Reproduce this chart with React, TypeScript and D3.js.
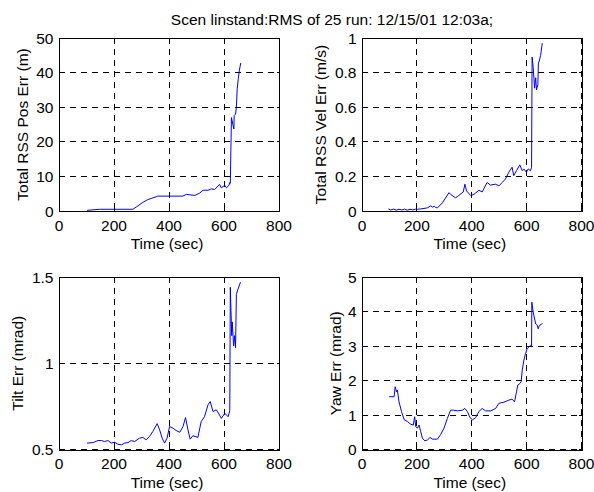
import React from "react";
import * as d3 from "d3";

const TITLE = "Scen linstand:RMS of 25 run: 12/15/01 12:03a;";
const X_TICKS = [0, 200, 400, 600, 800];

// Panel 1: Total RSS Pos Err (m)
const posT = [102, 148, 269, 305, 323, 353, 359, 450, 463, 494, 512, 524, 542, 554, 566, 584, 590, 603, 609, 618, 621, 623, 627, 633, 636, 637, 642, 645, 648, 652, 656, 661];
const posV = [0.2, 0.5, 0.5, 2.5, 3.3, 4.1, 4.3, 4.3, 4.8, 4.5, 5.2, 6.0, 6.0, 6.4, 6.2, 7.7, 6.7, 7.4, 6.7, 7.4, 8.2, 8.0, 27, 24.7, 23.7, 27.6, 28, 30, 35.3, 38.3, 40.7, 42.8];
const posTicks = [0, 10, 20, 30, 40, 50];

// Panel 2: Total RSS Vel Err (m/s)
const velT = [96, 105, 115, 125, 135, 145, 155, 165, 175, 185, 195, 202, 214, 238, 251, 257, 263, 269, 275, 293, 317, 323, 341, 353, 369, 375, 381, 396, 408, 426, 438, 456, 468, 487, 499, 511, 523, 535, 547, 553, 563, 575, 584, 590, 599, 606, 614, 618, 620, 624, 629, 633, 636, 641, 643, 645, 651, 657];
const velV = [0.012, 0.006, 0.011, 0.005, 0.01, 0.006, 0.011, 0.005, 0.01, 0.006, 0.011, 0.01, 0.012, 0.018, 0.03, 0.022, 0.028, 0.02, 0.018, 0.047, 0.106, 0.096, 0.076, 0.09, 0.11, 0.155, 0.116, 0.09, 0.096, 0.12, 0.11, 0.165, 0.15, 0.155, 0.145, 0.165, 0.185, 0.224, 0.253, 0.204, 0.233, 0.267, 0.233, 0.243, 0.224, 0.243, 0.233, 0.253, 0.89, 0.83, 0.71, 0.77, 0.7, 0.73, 0.86, 0.86, 0.9, 0.97];
const velTicks = [0, 0.2, 0.4, 0.6, 0.8, 1];

// Panel 3: Tilt Err (mrad)
const tiltT = [102, 124, 142, 154, 166, 178, 190, 202, 214, 227, 239, 251, 263, 275, 293, 305, 317, 329, 341, 357, 366, 375, 384, 393, 402, 414, 426, 439, 451, 460, 469, 477, 487, 505, 517, 529, 542, 550, 560, 572, 584, 590, 603, 615, 621, 623, 628, 630, 635, 639, 642, 645, 651, 660];
const tiltV = [0.537, 0.54, 0.552, 0.552, 0.546, 0.552, 0.537, 0.542, 0.531, 0.527, 0.537, 0.54, 0.552, 0.546, 0.566, 0.57, 0.556, 0.575, 0.604, 0.65, 0.614, 0.566, 0.537, 0.566, 0.633, 0.624, 0.61, 0.6, 0.633, 0.685, 0.614, 0.56, 0.58, 0.57, 0.662, 0.69, 0.759, 0.778, 0.72, 0.73, 0.7, 0.68, 0.71, 0.69, 0.724, 1.44, 1.16, 1.24, 1.1, 1.16, 1.09, 1.4, 1.43, 1.47];
const tiltTicks = [0.5, 1, 1.5];

// Panel 4: Yaw Err (mrad)
const yawT = [99, 117, 121, 126, 129, 135, 144, 154, 166, 178, 187, 192, 196, 202, 208, 214, 220, 229, 239, 248, 257, 275, 287, 299, 311, 323, 333, 348, 366, 375, 384, 394, 403, 414, 426, 438, 450, 469, 487, 499, 517, 535, 547, 556, 563, 568, 575, 580, 584, 590, 596, 602, 608, 614, 618, 619, 624, 633, 639, 642, 647, 653, 658];
const yawV = [1.53, 1.53, 1.82, 1.67, 1.72, 1.38, 1.1, 0.86, 0.81, 0.73, 0.71, 0.95, 0.66, 0.62, 0.71, 0.52, 0.33, 0.25, 0.28, 0.35, 0.3, 0.3, 0.44, 0.62, 0.9, 1.14, 1.14, 1.12, 1.14, 1.19, 1.1, 0.92, 0.86, 0.92, 1.1, 1.19, 1.12, 1.12, 1.19, 1.34, 1.37, 1.43, 1.46, 1.38, 1.67, 1.87, 1.91, 1.96, 2.3, 2.59, 2.78, 2.92, 2.97, 3.02, 3.0, 4.27, 3.98, 3.64, 3.6, 3.5, 3.6, 3.62, 3.66];
const yawTicks = [0, 1, 2, 3, 4, 5];

const FONT = "'Liberation Sans', Arial, sans-serif";
const FS = 15.5;

type PanelProps = {
  left: number; top: number; width: number; height: number;
  t: number[]; v: number[]; yTicks: number[]; yLabel: string; yLabelX: number;
};

const crisp = (p: number) => Math.round(p - 0.5) + 0.5;

function Panel({ left, top, width, height, t, v, yTicks, yLabel, yLabelX }: PanelProps) {
  const x = d3.scaleLinear().domain([0, 800]).range([left, left + width]);
  const y = d3.scaleLinear().domain([yTicks[0], yTicks[yTicks.length - 1]]).range([top + height, top]);
  const pts: [number, number][] = t.map((tt, i) => [tt, v[i]]);
  const line = d3.line<[number, number]>().x(d => x(d[0])).y(d => y(d[1]));
  const tl = 2.5;
  return (
    <g>
      {X_TICKS.map(tk => (
        <line key={"gx" + tk} x1={crisp(x(tk))} x2={crisp(x(tk))} y1={top} y2={top + height} stroke="#000" strokeWidth={1} strokeDasharray="6,5" shapeRendering="crispEdges" />
      ))}
      {yTicks.map(tk => (
        <line key={"gy" + tk} x1={left} x2={left + width} y1={crisp(y(tk))} y2={crisp(y(tk))} stroke="#000" strokeWidth={1} strokeDasharray="6,5" shapeRendering="crispEdges" />
      ))}
      <path d={line(pts) || ""} fill="none" stroke="#0000ff" strokeWidth={1} />
      <rect x={crisp(left)} y={crisp(top)} width={Math.round(width)} height={Math.round(height)} fill="none" stroke="#000" strokeWidth={1} shapeRendering="crispEdges" />
      {X_TICKS.map(tk => (
        <g key={"tx" + tk}>
          <line x1={crisp(x(tk))} x2={crisp(x(tk))} y1={top + height} y2={top + height - tl} stroke="#000" shapeRendering="crispEdges" />
          <line x1={crisp(x(tk))} x2={crisp(x(tk))} y1={top} y2={top + tl} stroke="#000" shapeRendering="crispEdges" />
          <text x={x(tk)} y={top + height + 19.5} textAnchor="middle" fontSize={FS} fontFamily={FONT}>{tk}</text>
        </g>
      ))}
      {yTicks.map(tk => (
        <g key={"ty" + tk}>
          <line x1={left} x2={left + tl} y1={crisp(y(tk))} y2={crisp(y(tk))} stroke="#000" shapeRendering="crispEdges" />
          <line x1={left + width} x2={left + width - tl} y1={crisp(y(tk))} y2={crisp(y(tk))} stroke="#000" shapeRendering="crispEdges" />
          <text x={left - 5.5} y={y(tk) + 5.5} textAnchor="end" fontSize={FS} fontFamily={FONT}>{tk}</text>
        </g>
      ))}
      <text x={left + width / 2 - 2} y={top + height + 38} textAnchor="middle" fontSize={FS} fontFamily={FONT}>Time (sec)</text>
      <text transform={`translate(${yLabelX},${top + height / 2}) rotate(-90)`} textAnchor="middle" fontSize={FS} fontFamily={FONT}>{yLabel}</text>
    </g>
  );
}

export default function App() {
  return (
    <svg width={594} height={492} style={{ position: "absolute", left: 0, top: 0, background: "#fff" }}>
      <rect x={0} y={0} width={594} height={492} fill="#fff" />
      <text x={332} y={25} textAnchor="middle" fontSize={15.5} fontFamily={FONT}>{TITLE}</text>
      <Panel left={59} top={38} width={220} height={173} t={posT} v={posV} yTicks={posTicks} yLabel="Total RSS Pos Err (m)" yLabelX={28.3} />
      <Panel left={362} top={38} width={219.5} height={173} t={velT} v={velV} yTicks={velTicks} yLabel="Total RSS Vel Err (m/s)" yLabelX={325.7} />
      <Panel left={59} top={277} width={220} height={172.5} t={tiltT} v={tiltV} yTicks={tiltTicks} yLabel="Tilt Err (mrad)" yLabelX={22.7} />
      <Panel left={362} top={277} width={219.5} height={172.5} t={yawT} v={yawV} yTicks={yawTicks} yLabel="Yaw Err (mrad)" yLabelX={340.5} />
    </svg>
  );
}
